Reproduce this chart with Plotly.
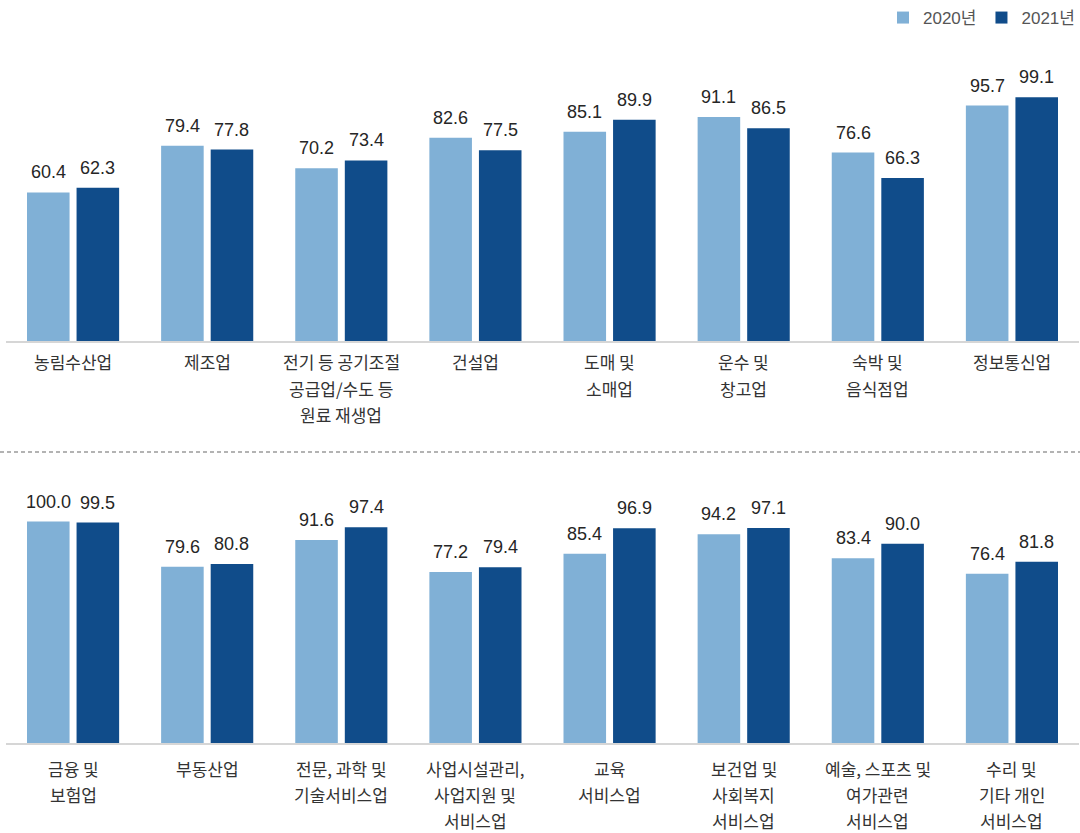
import plotly.graph_objects as go

# ---- data ----
top_categories = [
    ["농림수산업"],
    ["제조업"],
    ["전기 등 공기조절", "공급업/수도 등", "원료 재생업"],
    ["건설업"],
    ["도매 및", "소매업"],
    ["운수 및", "창고업"],
    ["숙박 및", "음식점업"],
    ["정보통신업"],
]
top_2020 = [60.4, 79.4, 70.2, 82.6, 85.1, 91.1, 76.6, 95.7]
top_2021 = [62.3, 77.8, 73.4, 77.5, 89.9, 86.5, 66.3, 99.1]

bottom_categories = [
    ["금융 및", "보험업"],
    ["부동산업"],
    ["전문, 과학 및", "기술서비스업"],
    ["사업시설관리,", "사업지원 및", "서비스업"],
    ["교육", "서비스업"],
    ["보건업 및", "사회복지", "서비스업"],
    ["예술, 스포츠 및", "여가관련", "서비스업"],
    ["수리 및", "기타 개인", "서비스업"],
]
bottom_2020 = [100.0, 79.6, 91.6, 77.2, 85.4, 94.2, 83.4, 76.4]
bottom_2021 = [99.5, 80.8, 97.4, 79.4, 96.9, 97.1, 90.0, 81.8]

series_names = ["2020년", "2021년"]

# ---- style ----
W, H = 1080, 833
C2020 = "#80B0D6"
C2021 = "#104C8A"
NUM_FONT = "Liberation Sans, Arial, Noto Sans CJK KR"
KR_FONT = "Noto Sans CJK KR, Noto Sans, sans-serif"
BARGAP = 0.261
BARGROUPGAP = 0.141


def py(pix):
    return (H - pix) / H


fig = go.Figure()

panels = [
    dict(cats=top_categories, v20=top_2020, v21=top_2021, xa="x", ya="y",
         base=341, top=41, scale=2.46, lab0=362),
    dict(cats=bottom_categories, v20=bottom_2020, v21=bottom_2021, xa="x2", ya="y2",
         base=743, top=463, scale=2.215, lab0=768),
]

annotations = []
for pi, p in enumerate(panels):
    idx = list(range(len(p["cats"])))
    for si, (vals, col) in enumerate([(p["v20"], C2020), (p["v21"], C2021)]):
        fig.add_trace(go.Bar(
            x=idx, y=vals, name=series_names[si], marker_color=col,
            marker_line_width=0, xaxis=p["xa"], yaxis=p["ya"],
            showlegend=(pi == 0), legendgroup=series_names[si],
            hoverinfo="skip",
        ))
        off = (1 - BARGAP) / 4 * (-1 if si == 0 else 1)
        for i, v in zip(idx, vals):
            annotations.append(dict(
                x=i + off, y=v, xref=p["xa"], yref=p["ya"], text=f"{v:.1f}",
                showarrow=False, yanchor="bottom", yshift=8,
                font=dict(family=NUM_FONT, size=18, color="#262626"),
            ))
    # category labels, one line each
    for i, lines in enumerate(p["cats"]):
        for li, line in enumerate(lines):
            annotations.append(dict(
                x=i, y=py(p["lab0"] + li * 26), xref=p["xa"], yref="paper",
                text=line, showarrow=False, yanchor="middle",
                font=dict(family=KR_FONT, size=17, color="#333333"),
            ))

xdom = [6 / W, 1079 / W]
axis_x = dict(range=[-0.5, 7.5], showgrid=False, zeroline=False, showline=True,
              linecolor="#D6D6D6", linewidth=2, showticklabels=False, ticks="",
              fixedrange=True, domain=xdom)

layout_axes = {}
for pi, p in enumerate(panels):
    rng_max = (p["base"] - p["top"]) / p["scale"]
    sfx = "" if pi == 0 else "2"
    ax = dict(axis_x)
    ax["anchor"] = "y" + sfx
    layout_axes["xaxis" + sfx] = ax
    layout_axes["yaxis" + sfx] = dict(
        range=[0, rng_max], domain=[py(p["base"]), py(p["top"])],
        visible=False, showgrid=False, zeroline=False, anchor="x" + sfx,
        fixedrange=True,
    )

fig.update_layout(
    width=W, height=H, autosize=False,
    margin=dict(l=0, r=0, t=0, b=0),
    paper_bgcolor="white", plot_bgcolor="white",
    barmode="group", bargap=BARGAP, bargroupgap=BARGROUPGAP,
    annotations=annotations,
    shapes=[dict(type="line", xref="paper", yref="paper", x0=0, x1=1,
                 y0=py(452), y1=py(452),
                 line=dict(color="#9A9A9A", width=1.5, dash="4px,3px"))],
    legend=dict(orientation="h", x=1.0, xanchor="right", y=1.0, yanchor="top",
                font=dict(family=NUM_FONT, size=17, color="#555555"),
                itemwidth=30, traceorder="normal", bgcolor="rgba(0,0,0,0)"),
    **layout_axes,
)

fig.write_html(
    "out.html",
    config={"displayModeBar": False},
    post_script="document.body.style.margin='0';document.body.style.overflow='hidden';",
)
